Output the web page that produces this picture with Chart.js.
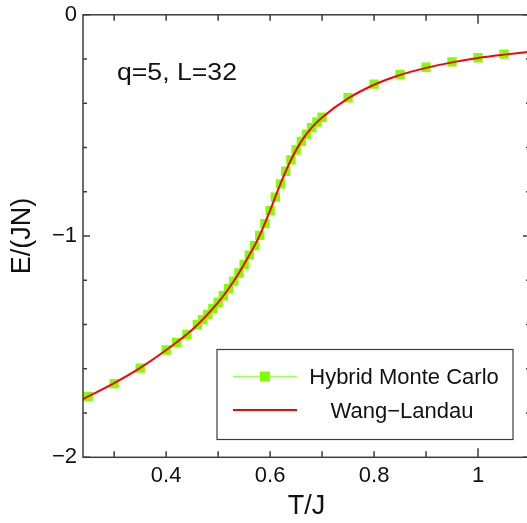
<!DOCTYPE html>
<html>
<head>
<meta charset="utf-8">
<script src="https://cdn.jsdelivr.net/npm/chart.js@4.4.0/dist/chart.umd.min.js"></script>
<style>
  html, body { margin: 0; padding: 0; background: #fff; overflow: hidden; }
  #wrap { width: 540px; height: 523px; }
</style>
</head>
<body>
<div id="wrap"><canvas id="energy" width="540" height="523"></canvas></div>
<script>
// Hybrid Monte Carlo points
const hmcT = [0.25, 0.30, 0.35, 0.40, 0.42, 0.44, 0.46, 0.47, 0.48, 0.49, 0.50, 0.51, 0.52, 0.53, 0.54,
  0.55, 0.56, 0.57, 0.58, 0.59, 0.60, 0.61, 0.62, 0.63, 0.64, 0.65, 0.66, 0.67, 0.68, 0.69, 0.70,
  0.75, 0.80, 0.85, 0.90, 0.95, 1.00, 1.05];
const hmcE = [-1.725, -1.667, -1.597, -1.515, -1.482, -1.445, -1.401, -1.378, -1.354, -1.328, -1.300,
  -1.270, -1.238, -1.204, -1.167, -1.128, -1.086, -1.043, -0.997, -0.944, -0.885, -0.824, -0.764,
  -0.707, -0.656, -0.611, -0.572, -0.539, -0.510, -0.485, -0.463, -0.375, -0.313, -0.270, -0.237,
  -0.213, -0.194, -0.178];

// Wang-Landau curve
const wlT = [0.24, 0.30, 0.35, 0.40, 0.45, 0.50, 0.52, 0.54, 0.56, 0.58, 0.60, 0.62, 0.64, 0.66,
  0.68, 0.70, 0.75, 0.80, 0.85, 0.90, 0.95, 1.00, 1.05, 1.10];
const wlE = [-1.737, -1.665, -1.596, -1.515, -1.424, -1.300, -1.238, -1.167, -1.086, -0.997, -0.884,
  -0.763, -0.656, -0.572, -0.510, -0.464, -0.378, -0.316, -0.272, -0.240, -0.215, -0.195, -0.180, -0.167];

const xTickValues = [0.4, 0.6, 0.8, 1];
const xTickLabels = ["0.4", "0.6", "0.8", "1"];
const yTickValues = [0, -1, -2];
const yTickLabels = ["0", "\u22121", "\u22122"];
const xMarks = [0.3, 0.4, 0.5, 0.6, 0.7, 0.8, 0.9, 1.0, 1.1];
const yMarks = [0, -0.2, -0.4, -0.6, -0.8, -1, -1.2, -1.4, -1.6, -1.8, -2];

const FONT = "'Liberation Sans', Arial, Helvetica, sans-serif";
const AXIS = "#3c3c3c";

function pickLabel(v, values, labels) {
  for (let i = 0; i < values.length; i++) {
    if (Math.abs(v - values[i]) < 1e-6) return labels[i];
  }
  return "";
}

const frame = {
  id: "frame",
  afterDraw(chart) {
    const { ctx, chartArea: a, scales: { x, y } } = chart;
    ctx.save();
    ctx.strokeStyle = AXIS;
    ctx.lineWidth = 1.5;
    ctx.beginPath();
    xMarks.forEach(v => {
      const px = x.getPixelForValue(v);
      const len = Math.abs(v - Math.round(v)) < 1e-6 ? 9 : 6;
      ctx.moveTo(px, a.bottom); ctx.lineTo(px, a.bottom - len);
      ctx.moveTo(px, a.top); ctx.lineTo(px, a.top + len);
    });
    yMarks.forEach(v => {
      const py = y.getPixelForValue(v);
      const len = Math.abs(v - Math.round(v)) < 1e-6 ? 7 : 4;
      ctx.moveTo(a.left, py); ctx.lineTo(a.left + len, py);
      ctx.moveTo(a.right, py); ctx.lineTo(a.right - len, py);
    });
    ctx.stroke();
    ctx.strokeRect(a.left, a.top, a.right - a.left, a.bottom - a.top);

    // annotation
    ctx.fillStyle = "#111";
    ctx.font = "24px " + FONT;
    ctx.textBaseline = "alphabetic";
    ctx.textAlign = "left";
    const note = "q=5, L=32";
    const w = ctx.measureText(note).width;
    ctx.save();
    ctx.translate(117, 80);
    ctx.scale(120 / w, 1);
    ctx.fillText(note, 0, 0);
    ctx.restore();

    // legend
    const ds = chart.data.datasets;
    ctx.font = "22px " + FONT;
    ctx.fillStyle = "#fff";
    ctx.fillRect(217, 349.5, 296, 90);
    ctx.strokeStyle = AXIS;
    ctx.lineWidth = 1.2;
    ctx.strokeRect(217, 349.5, 296, 90);

    ctx.lineWidth = 1.5;
    ctx.strokeStyle = "#9cff55";
    ctx.beginPath(); ctx.moveTo(233, 376.5); ctx.lineTo(297, 376.5); ctx.stroke();
    ctx.fillStyle = ds[1].backgroundColor;
    ctx.fillRect(260, 371.5, 10, 10);

    ctx.lineWidth = 2;
    ctx.strokeStyle = ds[0].borderColor;
    ctx.beginPath(); ctx.moveTo(233, 410); ctx.lineTo(297, 410); ctx.stroke();

    ctx.fillStyle = "#111";
    ctx.textAlign = "center";
    ctx.fillText(ds[1].label, 404, 384);
    ctx.fillText(ds[0].label, 402, 417.5);
    ctx.restore();
  }
};

new Chart(document.getElementById("energy"), {
  type: "line",
  data: {
    datasets: [
      {
        label: "Wang\u2212Landau",
        data: wlT.map((t, i) => ({ x: t, y: wlE[i] })),
        borderColor: "#ff0000",
        borderWidth: 2,
        pointRadius: 0,
        cubicInterpolationMode: "monotone",
        fill: false,
        order: 0
      },
      {
        label: "Hybrid Monte Carlo",
        data: hmcT.map((t, i) => ({ x: t, y: hmcE[i] })),
        showLine: false,
        pointStyle: "rect",
        pointRadius: 6.6,
        pointBorderWidth: 0,
        backgroundColor: "#80ff00",
        borderColor: "#80ff00",
        order: 1
      }
    ]
  },
  options: {
    responsive: false,
    animation: false,
    layout: { padding: { top: 9.3, right: 10, left: 0, bottom: 0 } },
    plugins: { legend: { display: false }, tooltip: { enabled: false } },
    scales: {
      x: {
        type: "linear",
        min: 0.24,
        max: 1.1,
        grid: { display: false, drawTicks: false },
        border: { display: false },
        ticks: {
          stepSize: 0.1,
          autoSkip: false,
          maxRotation: 0,
          padding: 5,
          color: "#111",
          font: { family: FONT, size: 22 },
          callback: v => pickLabel(v, xTickValues, xTickLabels)
        },
        title: {
          display: true,
          text: "T/J",
          color: "#111",
          font: { family: FONT, size: 27, lineHeight: 1 },
          padding: { top: 0, bottom: 3 }
        },
        afterFit: s => { s.height = 65.7; }
      },
      y: {
        type: "linear",
        min: -2,
        max: 0,
        grid: { display: false, drawTicks: false },
        border: { display: false },
        ticks: {
          stepSize: 0.2,
          autoSkip: false,
          padding: 6,
          color: "#111",
          font: { family: FONT, size: 22, lineHeight: 0.8 },
          callback: v => pickLabel(v, yTickValues, yTickLabels)
        },
        title: {
          display: true,
          text: "E/(JN)",
          color: "#111",
          font: { family: FONT, size: 27, lineHeight: 1 },
          padding: { top: 9.5, bottom: 0 }
        },
        afterFit: s => { s.width = 83; }
      }
    }
  },
  plugins: [frame]
});
</script>
</body>
</html>
